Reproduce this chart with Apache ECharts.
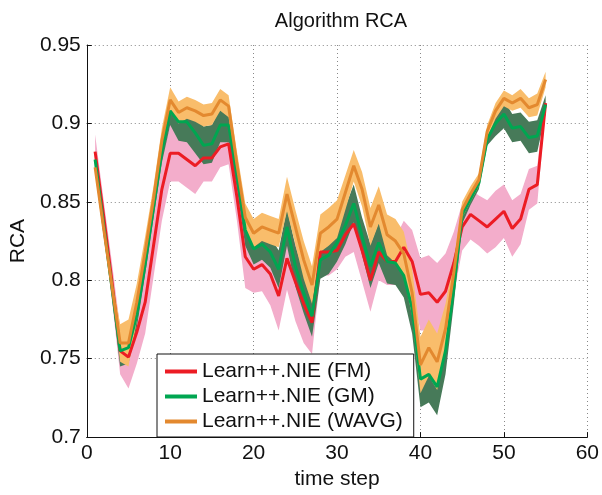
<!DOCTYPE html>
<html>
<head>
<meta charset="utf-8">
<script src="https://cdn.jsdelivr.net/npm/echarts@6/dist/echarts.min.js"></script>
<style>
  html, body { margin: 0; padding: 0; background: #fff; }
  #main { width: 602px; height: 495px; }
</style>
</head>
<body>
<div id="main"></div>
<script>
// time steps (x values)
const timeSteps = [1,2,3,4,5,6,7,8,9,10,11,12,13,14,15,16,17,18,19,20,21,22,23,24,25,26,27,28,29,30,
  31,32,33,34,35,36,37,38,39,40,41,42,43,44,45,46,47,48,49,50,51,52,53,54,55];

// Learn++.NIE (FM) - mean and spread
const fmMean = [0.882,0.842,0.800,0.755,0.751,0.767,0.786,0.822,0.858,0.881,0.881,0.877,0.873,0.878,0.878,0.885,0.887,0.853,0.815,0.807,
  0.810,0.804,0.790,0.814,0.799,0.785,0.773,0.818,0.818,0.819,0.829,0.836,0.819,0.800,0.818,0.812,0.812,0.821,0.812,0.791,
  0.792,0.786,0.793,0.811,0.834,0.842,0.838,0.834,0.839,0.844,0.833,0.839,0.858,0.861,0.913];
const fmStd = [0.011,0.010,0.012,0.015,0.020,0.020,0.020,0.020,0.020,0.018,0.018,0.018,0.018,0.015,0.015,0.013,0.013,0.015,0.020,0.015,
  0.017,0.020,0.022,0.020,0.025,0.025,0.020,0.015,0.015,0.012,0.014,0.018,0.020,0.020,0.018,0.015,0.015,0.017,0.020,0.023,
  0.024,0.025,0.024,0.020,0.015,0.016,0.016,0.017,0.018,0.017,0.018,0.016,0.013,0.012,0.004];

// Learn++.NIE (GM)
const gmMean = [0.877,0.836,0.796,0.755,0.757,0.778,0.810,0.846,0.882,0.908,0.901,0.901,0.894,0.886,0.887,0.899,0.899,0.868,0.832,0.820,
  0.823,0.818,0.807,0.834,0.809,0.792,0.777,0.813,0.816,0.824,0.835,0.849,0.828,0.809,0.824,0.812,0.811,0.803,0.782,0.737,
  0.740,0.732,0.755,0.795,0.842,0.852,0.862,0.890,0.900,0.906,0.897,0.898,0.891,0.892,0.912];
const gmStd = [0.005,0.006,0.006,0.010,0.010,0.008,0.006,0.006,0.007,0.009,0.012,0.013,0.013,0.012,0.012,0.011,0.011,0.010,0.010,0.010,
  0.010,0.010,0.012,0.012,0.013,0.013,0.013,0.012,0.012,0.012,0.012,0.012,0.012,0.014,0.013,0.014,0.014,0.014,0.016,0.018,
  0.018,0.018,0.015,0.010,0.006,0.004,0.004,0.004,0.008,0.009,0.009,0.009,0.010,0.010,0.006];

// Learn++.NIE (WAVG)
const wavgMean = [0.872,0.834,0.797,0.760,0.760,0.786,0.818,0.852,0.889,0.915,0.907,0.910,0.908,0.905,0.906,0.915,0.911,0.874,0.840,0.830,
  0.834,0.832,0.830,0.855,0.834,0.813,0.797,0.830,0.834,0.839,0.856,0.873,0.858,0.834,0.848,0.829,0.825,0.817,0.792,0.746,
  0.757,0.748,0.769,0.805,0.845,0.855,0.864,0.895,0.908,0.916,0.913,0.916,0.910,0.912,0.928];
const wavgStd = [0.004,0.005,0.005,0.012,0.015,0.012,0.010,0.008,0.008,0.008,0.007,0.007,0.007,0.007,0.007,0.007,0.007,0.008,0.009,0.009,
  0.009,0.009,0.009,0.011,0.011,0.012,0.012,0.012,0.012,0.012,0.011,0.010,0.011,0.012,0.012,0.013,0.014,0.014,0.015,0.018,
  0.018,0.018,0.016,0.008,0.005,0.005,0.004,0.004,0.005,0.005,0.005,0.006,0.006,0.007,0.005];

const names = ['Learn++.NIE (FM)', 'Learn++.NIE (GM)', 'Learn++.NIE (WAVG)'];
const lineColors = ['#ec1c24', '#00a651', '#e3892f'];
const bandColors = ['#f3adcb', '#477a59', '#f9bd6b'];

const font = '"Liberation Sans", Arial, Helvetica, sans-serif';

const chart = echarts.init(document.getElementById('main'));

function pairs(vals) {
  return timeSteps.map((t, i) => [t, vals[i]]);
}

// shaded band (mean +/- std) drawn as one polygon through the axis scales
function bandSeries(key, mean, std, color) {
  const rows = timeSteps.map((t, i) => [t, mean[i] - std[i], mean[i] + std[i]]);
  return {
    name: key + ' band', type: 'custom', silent: true, z: 1,
    data: rows,
    encode: { x: 0, y: [1, 2] },
    renderItem: function (params, api) {
      if (params.dataIndex !== 0) return;
      const top = rows.map(r => api.coord([r[0], r[2]]));
      const bottom = rows.map(r => api.coord([r[0], r[1]])).reverse();
      return {
        type: 'polygon',
        shape: { points: top.concat(bottom) },
        style: { fill: color, stroke: null }
      };
    }
  };
}

function meanSeries(i, mean) {
  return { name: names[i], type: 'line', data: pairs(mean), symbol: 'none', z: 3,
    itemStyle: { color: lineColors[i] },
    lineStyle: { color: lineColors[i], width: 3 } };
}

const option = {
  animation: false,
  backgroundColor: '#fff',
  title: {
    text: 'Algorithm RCA',
    left: 336, top: 6, textAlign: 'center',
    textStyle: { fontFamily: font, fontSize: 20, fontWeight: 'normal', color: '#111' }
  },
  legend: {
    data: names,
    orient: 'vertical',
    left: 157, top: 354,
    padding: [7, 11, 5, 8],
    icon: 'rect',
    itemWidth: 32, itemHeight: 4, itemGap: 4,
    backgroundColor: '#fff', borderColor: '#111', borderWidth: 1, borderRadius: 0,
    textStyle: { fontFamily: font, fontSize: 21, color: '#111' }
  },
  grid: { left: 84, right: 14, top: 45, bottom: 52 },
  xAxis: {
    type: 'value', min: 0, max: 60, interval: 10,
    name: 'time step', nameLocation: 'middle', nameGap: 23,
    nameTextStyle: { fontFamily: font, fontSize: 21, color: '#111' },
    axisLine: { show: true, lineStyle: { color: '#111', width: 1 } },
    axisTick: { show: true, inside: true, length: 5, lineStyle: { color: '#111' } },
    axisLabel: { fontFamily: font, fontSize: 21, color: '#111', margin: 6 },
    splitLine: { show: true, lineStyle: { color: '#888', type: [1, 3], width: 1 } }
  },
  yAxis: {
    type: 'value', min: 0.7, max: 0.95, interval: 0.05,
    name: 'RCA', nameLocation: 'middle', nameGap: 48, nameRotate: 90,
    nameTextStyle: { fontFamily: font, fontSize: 21, color: '#111' },
    axisLine: { show: true, lineStyle: { color: '#111', width: 1 } },
    axisTick: { show: true, inside: true, length: 5, lineStyle: { color: '#111' } },
    axisLabel: { fontFamily: font, fontSize: 21, color: '#111', margin: 6,
      formatter: v => String(+v.toFixed(2)) },
    splitLine: { show: true, lineStyle: { color: '#888', type: [1, 3], width: 1 } }
  },
  series: [
    bandSeries('fm', fmMean, fmStd, bandColors[0]),
    bandSeries('gm', gmMean, gmStd, bandColors[1]),
    bandSeries('wavg', wavgMean, wavgStd, bandColors[2]),
    meanSeries(0, fmMean),
    meanSeries(1, gmMean),
    meanSeries(2, wavgMean)
  ]
};

chart.setOption(option);
</script>
</body>
</html>
